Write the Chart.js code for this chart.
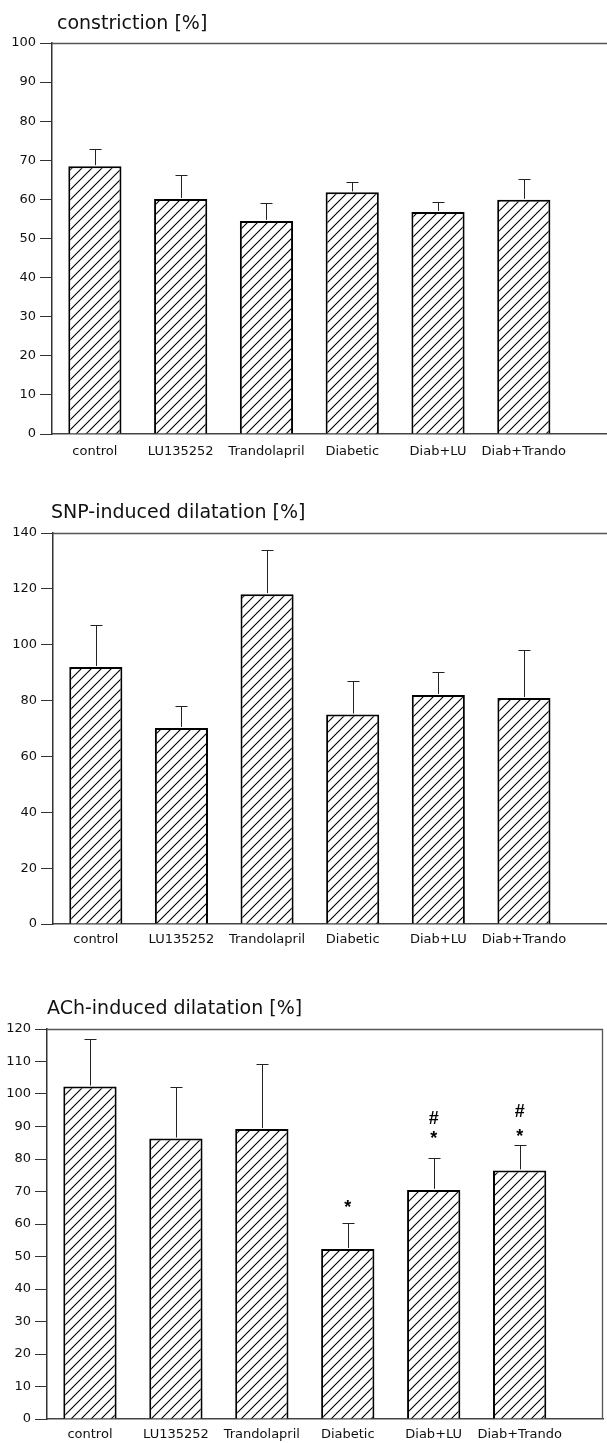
<!DOCTYPE html>
<html>
<head>
<meta charset="utf-8">
<script src="https://cdn.jsdelivr.net/npm/chart.js@4.4.1/dist/chart.umd.min.js"></script>
<style>
  html, body { margin: 0; padding: 0; background: #ffffff; }
  body { width: 607px; height: 1443px; position: relative; overflow: hidden; }
  canvas { position: absolute; left: 0; }
</style>
</head>
<body>
<canvas id="c1" width="607" height="466" style="top:0px"></canvas>
<canvas id="c2" width="607" height="474" style="top:480px"></canvas>
<canvas id="c3" width="607" height="473" style="top:970px"></canvas>
<script>
// ---- data ----
const categories = ['control', 'LU135252', 'Trandolapril', 'Diabetic', 'Diab+LU', 'Diab+Trando'];

const constrictionMean = [68.5, 60.1, 54.5, 61.8, 56.8, 59.9];
const constrictionErr  = [4.5, 6.2, 4.5, 2.7, 2.6, 5.4];

const snpMean = [92.0, 70.2, 118.1, 75.0, 82.0, 80.9];
const snpErr  = [15.0, 7.8, 15.8, 12.0, 8.2, 17.1];

const achMean = [102.3, 86.3, 89.2, 52.3, 70.5, 76.5];
const achErr  = [14.7, 16.0, 20.0, 7.9, 9.8, 7.9];

// significance marks (value level at which each mark sits)
const achStarAt = [null, null, null, 66.5, 87.7, 88.3];
const achHashAt = [null, null, null, null, 92.9, 94.8];

const titles = ['constriction [%]', 'SNP-induced dilatation [%]', 'ACh-induced dilatation [%]'];
const yMaxes = [100, 140, 120];
const ySteps = [10, 20, 10];

// ---- styling / layout ----
const FONT = "'DejaVu Sans', 'Liberation Sans', Arial, sans-serif";
const INK = '#111111';

function hatch(ctx) {
  const s = 10;
  const c = document.createElement('canvas');
  c.width = s; c.height = s;
  const g = c.getContext('2d');
  g.fillStyle = '#ffffff';
  g.fillRect(0, 0, s, s);
  g.strokeStyle = '#000000';
  g.lineWidth = 1.1;
  g.beginPath();
  g.moveTo(-1, s + 1); g.lineTo(s + 1, -1);
  g.moveTo(-2, 2); g.lineTo(2, -2);
  g.moveTo(s - 2, s + 2); g.lineTo(s + 2, s - 2);
  g.stroke();
  return ctx.createPattern(c, 'repeat');
}

const errorBars = {
  id: 'errorBars',
  afterDatasetsDraw(chart, args, opts) {
    const { ctx } = chart;
    const xs = chart.scales.x, ys = chart.scales.y;
    ctx.save();
    ctx.strokeStyle = '#222';
    ctx.lineWidth = 1;
    opts.mean.forEach((m, i) => {
      const x = Math.round(xs.getPixelForValue(i)) + 0.5;
      const yb = ys.getPixelForValue(m);
      const yt = Math.round(ys.getPixelForValue(m + opts.err[i])) + 0.5;
      ctx.beginPath();
      ctx.moveTo(x, yb - 1);
      ctx.lineTo(x, yt);
      ctx.moveTo(x - 6, yt);
      ctx.lineTo(x + 6, yt);
      ctx.stroke();
    });
    if (opts.star) {
      ctx.fillStyle = '#000';
      ctx.font = "bold 18px 'Liberation Sans', Arial, sans-serif";
      ctx.textAlign = 'center';
      ctx.textBaseline = 'alphabetic';
      opts.star.forEach((v, i) => {
        if (v == null) return;
        ctx.fillText('*', xs.getPixelForValue(i), ys.getPixelForValue(v) + 10);
      });
      opts.hash.forEach((v, i) => {
        if (v == null) return;
        ctx.fillText('#', xs.getPixelForValue(i), ys.getPixelForValue(v) + 6.5);
      });
    }
    ctx.restore();
  }
};

const frame = {
  id: 'frame',
  afterDraw(chart, args, opts) {
    const { ctx, chartArea: a } = chart;
    ctx.save();
    ctx.fillStyle = INK;
    ctx.font = '19px ' + FONT;
    ctx.textAlign = 'left';
    ctx.textBaseline = 'alphabetic';
    ctx.fillText(opts.title, a.left + opts.titleDx, a.top - opts.titleDy);
    ctx.strokeStyle = '#555';
    ctx.lineWidth = 1.3;
    ctx.beginPath();
    ctx.moveTo(a.left, a.top + 0.5);
    ctx.lineTo(a.right, a.top + 0.5);
    if (opts.rightBorder) {
      ctx.moveTo(a.right - 0.5, a.top);
      ctx.lineTo(a.right - 0.5, a.bottom);
    }
    ctx.stroke();
    ctx.restore();
  }
};

function makePanel(id, idx, mean, err, layout, extra) {
  const canvas = document.getElementById(id);
  const ctx = canvas.getContext('2d');
  const pattern = hatch(ctx);
  return new Chart(ctx, {
    type: 'bar',
    data: {
      datasets: [{
        data: mean.map((v, i) => ({ x: i, y: v })),
        backgroundColor: pattern,
        borderColor: '#000',
        borderWidth: 2,
        barPercentage: 0.62,
        categoryPercentage: 1.0
      }]
    },
    options: {
      responsive: false,
      animation: false,
      devicePixelRatio: 1,
      layout: { padding: { top: layout.top, left: 0, right: layout.right, bottom: 0 } },
      plugins: {
        legend: { display: false },
        tooltip: { enabled: false },
        errorBars: Object.assign({ mean: mean, err: err }, extra || {}),
        frame: { title: titles[idx], titleDx: layout.titleDx, titleDy: layout.titleDy, rightBorder: layout.rightBorder }
      },
      scales: {
        x: {
          type: 'linear',
          offset: false,
          min: -0.5,
          max: 5.97,
          afterBuildTicks(s) { s.ticks = categories.map((_, i) => ({ value: i })); },
          afterFit(s) { s.height = layout.xh; },
          ticks: {
            autoSkip: false,
            maxRotation: 0,
            color: INK,
            font: { family: FONT, size: 13 },
            padding: layout.xpad,
            callback: (v) => categories[v] !== undefined ? categories[v] : ''
          },
          grid: { display: false, drawTicks: false, tickLength: 0, offset: false },
          border: { display: true, color: '#444', width: 1.5 }
        },
        y: {
          min: 0,
          max: yMaxes[idx],
          afterFit(s) { s.width = layout.axisX; },
          ticks: {
            stepSize: ySteps[idx],
            color: INK,
            font: { family: FONT, size: 13 },
            padding: 4
          },
          grid: { display: true, drawOnChartArea: false, drawTicks: true, tickLength: 12, color: '#333', lineWidth: 1 },
          border: { display: true, color: '#333', width: 1.5 }
        }
      }
    },
    plugins: [errorBars, frame]
  });
}

makePanel('c1', 0, constrictionMean, constrictionErr,
  { top: 43, right: 0, xh: 32, xpad: 10, axisX: 52, titleDx: 5, titleDy: 14.5, rightBorder: false });
makePanel('c2', 1, snpMean, snpErr,
  { top: 53, right: 0, xh: 30, xpad: 8, axisX: 53, titleDx: -2, titleDy: 15, rightBorder: false });
makePanel('c3', 2, achMean, achErr,
  { top: 59, right: 4, xh: 24, xpad: 8, axisX: 47, titleDx: 0, titleDy: 15, rightBorder: true },
  { star: achStarAt, hash: achHashAt });
</script>
</body>
</html>
